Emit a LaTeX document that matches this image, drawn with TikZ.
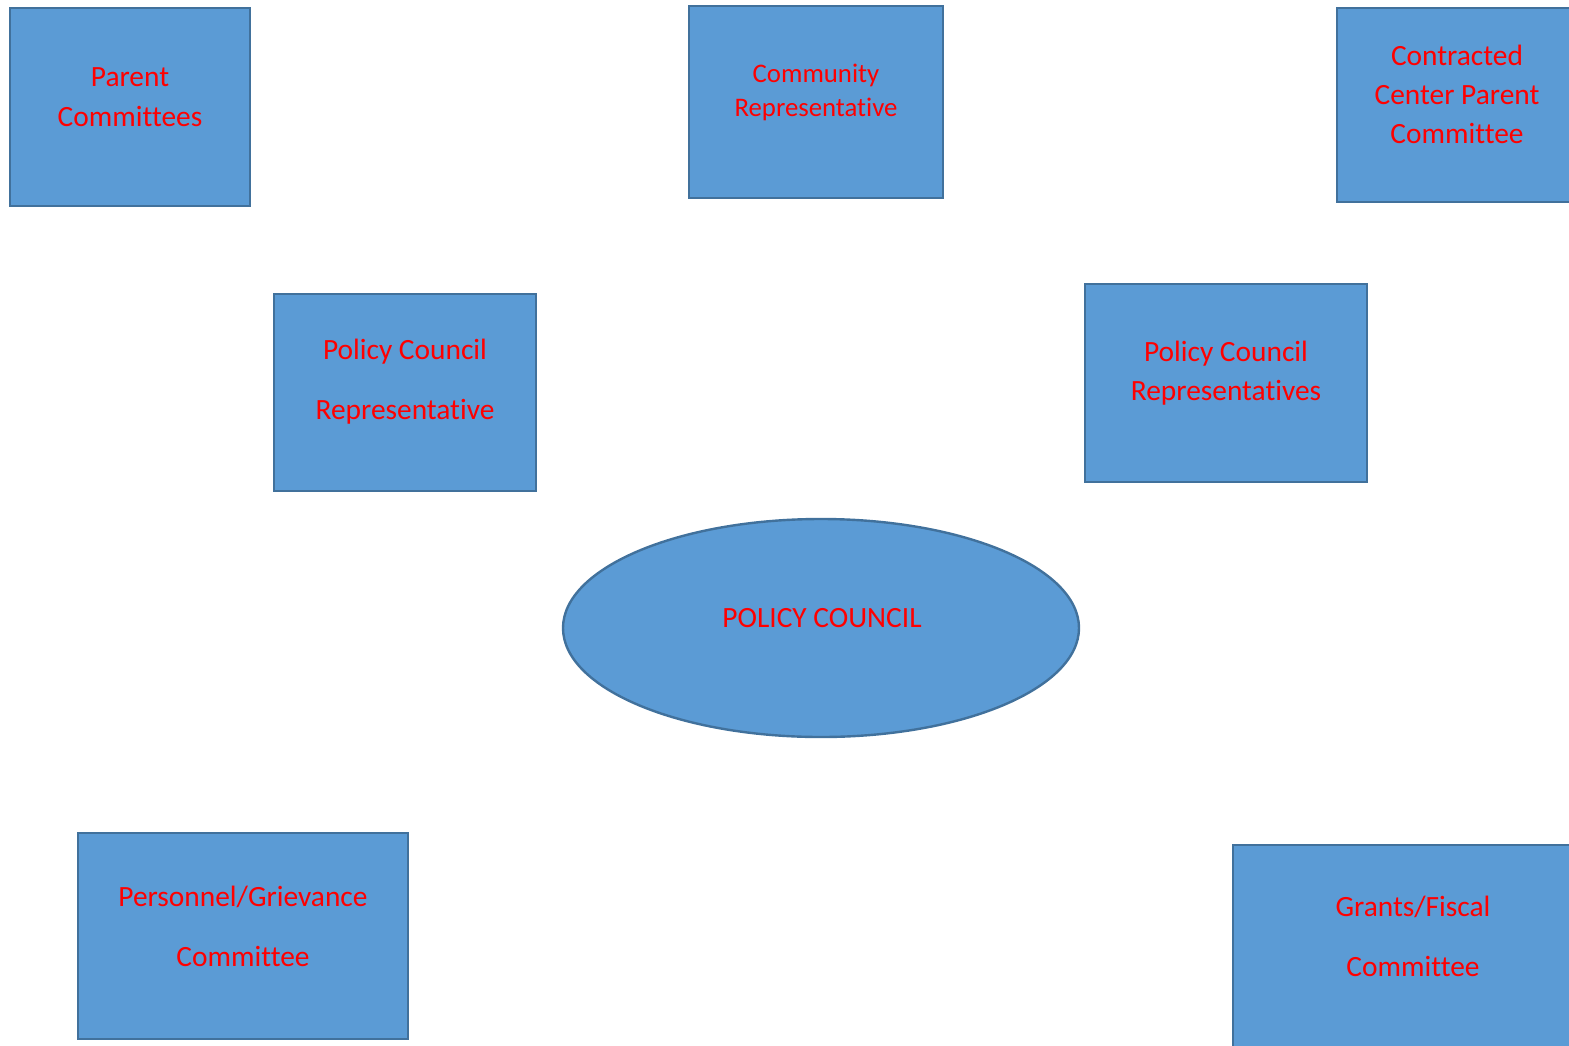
\documentclass[tikz,border=0pt]{standalone}
\usepackage{fontspec}
\setmainfont[Ligatures=NoCommon]{Carlito}
\usetikzlibrary{shapes.geometric}
\definecolor{boxfill}{HTML}{5B9BD5}
\definecolor{boxline}{HTML}{41719C}
\definecolor{txtred}{HTML}{FF0000}
\tikzset{
  box/.style={draw=boxline, fill=boxfill, line width=1.2pt},
  lbl/.style={text=txtred, align=center, inner sep=0pt, font=\fontsize{14.7pt}{20pt}\selectfont},
}
\begin{document}
\begin{tikzpicture}[x=0.5pt,y=-0.5pt]
\useasboundingbox (0,0) rectangle (1569,1045);
\clip (0,0) rectangle (1569,1045);
% boxes
\draw[box] (10,8) rectangle (250,206) coordinate (pc);
\draw[box] (689,6) rectangle (943,198) coordinate (cr);
\draw[box] (1337,8) rectangle (1577,202) coordinate (cc);
\draw[box] (274,294) rectangle (536,491) coordinate (pcr);
\draw[box] (1085,284) rectangle (1367,482) coordinate (pcrs);
\draw[box] (78,833) rectangle (408,1039) coordinate (pg);
\draw[box] (1233,845) rectangle (1593,1060) coordinate (gf);
\node[ellipse, box, minimum width=258pt, minimum height=109pt, inner sep=0pt] (council) at (821,628) {};
% labels
\node[lbl] (tpc) at (130,97) {Parent\\Committees};
\node[lbl, font=\fontsize{13.4pt}{17pt}\selectfont] (tcr) at (816,92) {Community\\Representative};
\node[lbl, font=\fontsize{14.7pt}{19.5pt}\selectfont] (tcc) at (1457,94) {Contracted\\Center Parent\\Committee};
\node[lbl, font=\fontsize{14.7pt}{30pt}\selectfont] (tpcr) at (405,382) {Policy Council\\Representative};
\node[lbl, font=\fontsize{14.7pt}{19.5pt}\selectfont] (tpcrs) at (1226,373) {Policy Council\\Representatives};
\node[lbl] (tcouncil) at (822,618) {POLICY COUNCIL};
\node[lbl, font=\fontsize{14.7pt}{30pt}\selectfont] (tpg) at (243,926) {Personnel/Grievance\\Committee};
\node[lbl, font=\fontsize{14.7pt}{30pt}\selectfont] (tgf) at (1413,936) {Grants/Fiscal\\Committee};
\end{tikzpicture}
\end{document}
